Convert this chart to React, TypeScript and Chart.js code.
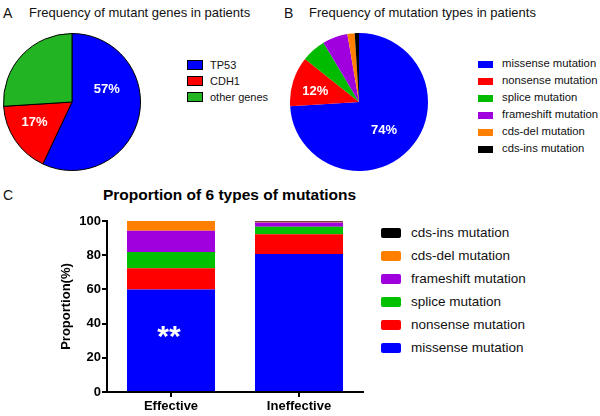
import React, { useEffect, useRef } from "react";
import { Chart, registerables } from "chart.js";

Chart.register(...registerables);

const FONT = "'Liberation Sans', Arial, Helvetica, sans-serif";

// Panel A
const geneLabels = ["TP53", "CDH1", "other genes"];
const geneValues = [57, 17, 26];
const geneColors = ["#0000FF", "#FF0000", "#22B422"];
const geneShowPct = [true, true, false];

// Panel B
const typeLabels = [
  "missense mutation",
  "nonsense mutation",
  "splice mutation",
  "frameshift mutation",
  "cds-del mutation",
  "cds-ins mutation",
];
const typeValues = [74, 11.7, 5.7, 5.9, 1.7, 1.0];
const typeColors = ["#0000FF", "#FF0000", "#00BB00", "#A000DD", "#FF8000", "#000000"];
const typeShowPct = [true, true, false, false, false, false];

// Panel C
const groups = ["Effective", "Ineffective"];
const missenseC = [60, 80.7];
const nonsenseC = [12.3, 11.5];
const spliceC = [9.6, 4.5];
const frameshiftC = [12.4, 2.4];
const cdsDelC = [5.7, 0.4];
const cdsInsC = [0, 0.5];
const barColors = ["#0000FF", "#FF0000", "#00C000", "#A000DD", "#FF8000", "#000000"];
const yTickValues = [0, 20, 40, 60, 80, 100];
const starGroup = 0;
const starValue = 35;

const pieLabelPlugin = {
  id: "pieLabels",
  afterDatasetsDraw(chart: any, _args: any, opts: any) {
    const meta = chart.getDatasetMeta(0);
    const ds = chart.data.datasets[0];
    const ctx = chart.ctx;
    ctx.save();
    ctx.fillStyle = "#FFFFFF";
    ctx.font = `bold 13px ${FONT}`;
    ctx.textAlign = "center";
    ctx.textBaseline = "middle";
    meta.data.forEach((arc: any, i: number) => {
      if (!opts.show[i]) return;
      const p = arc.getProps(["x", "y", "startAngle", "endAngle", "outerRadius"], true);
      const [af, rf] = opts.pos[i];
      const a = p.startAngle + (p.endAngle - p.startAngle) * af;
      const text = `${Math.round(ds.data[i])}%`;
      ctx.fillText(text, p.x + Math.cos(a) * p.outerRadius * rf, p.y + Math.sin(a) * p.outerRadius * rf);
    });
    ctx.restore();
  },
};

const starPlugin = {
  id: "stars",
  afterDatasetsDraw(chart: any, _args: any, opts: any) {
    const bar = chart.getDatasetMeta(0).data[opts.index];
    const y = chart.scales.y.getPixelForValue(opts.value);
    const ctx = chart.ctx;
    ctx.save();
    ctx.fillStyle = "#FFFFFF";
    ctx.font = `bold 30px ${FONT}`;
    ctx.textAlign = "center";
    ctx.textBaseline = "middle";
    ctx.fillText("**", bar.x - 2, y + 6);
    ctx.restore();
  },
};

function Legend(props: {
  items: string[];
  colors: string[];
  left: number;
  firstY: number;
  step: number;
  boxW: number;
  boxH: number;
  gap: number;
  fontSize: number;
  border?: boolean;
  radius?: number;
}) {
  const { items, colors, left, firstY, step, boxW, boxH, gap, fontSize, border, radius } = props;
  return (
    <>
      {items.map((t, i) => (
        <div
          key={t}
          style={{
            position: "absolute",
            left,
            top: firstY + i * step - 10,
            height: 20,
            width: "max-content",
            display: "flex",
            alignItems: "center",
            whiteSpace: "nowrap",
          }}
        >
          <div
            style={{
              width: boxW,
              height: boxH,
              flexShrink: 0,
              boxSizing: "border-box",
              background: colors[i],
              border: border ? "1px solid #000" : "none",
              borderRadius: radius || 0,
            }}
          />
          <span style={{ marginLeft: gap, fontSize, lineHeight: 1, color: "#111", flexShrink: 0 }}>{t}</span>
        </div>
      ))}
    </>
  );
}

export default function App() {
  const aRef = useRef<HTMLCanvasElement>(null);
  const bRef = useRef<HTMLCanvasElement>(null);
  const cRef = useRef<HTMLCanvasElement>(null);

  useEffect(() => {
    const charts: Chart[] = [];
    charts.push(
      new Chart(aRef.current!, {
        type: "pie",
        data: {
          labels: geneLabels,
          datasets: [
            { data: geneValues, backgroundColor: geneColors, borderColor: "#000", borderWidth: 1 },
          ],
        },
        options: {
          responsive: false,
          maintainAspectRatio: false,
          animation: false,
          layout: { padding: 0 },
          plugins: {
            legend: { display: false },
            tooltip: { enabled: false },
            pieLabels: { show: geneShowPct, pos: [[0.34, 0.54], [0.6, 0.62], [0.5, 0.5]] },
          } as any,
        },
        plugins: [pieLabelPlugin],
      })
    );
    charts.push(
      new Chart(bRef.current!, {
        type: "pie",
        data: {
          labels: typeLabels,
          datasets: [
            { data: typeValues, backgroundColor: typeColors, borderColor: "#333", borderWidth: 0 },
          ],
        },
        options: {
          responsive: false,
          maintainAspectRatio: false,
          animation: false,
          layout: { padding: 0 },
          plugins: {
            legend: { display: false },
            tooltip: { enabled: false },
            pieLabels: {
              show: typeShowPct,
              pos: [[0.52, 0.55], [0.4, 0.65], [0.5, 0.5], [0.5, 0.5], [0.5, 0.5], [0.5, 0.5]],
            },
          } as any,
        },
        plugins: [pieLabelPlugin],
      })
    );
    const series = [missenseC, nonsenseC, spliceC, frameshiftC, cdsDelC, cdsInsC];
    charts.push(
      new Chart(cRef.current!, {
        type: "bar",
        data: {
          labels: groups,
          datasets: series.map((d, i) => ({
            label: typeLabels[i],
            data: d,
            backgroundColor: barColors[i],
            borderWidth: 0,
            barPercentage: 0.6875,
            categoryPercentage: 1,
          })),
        },
        options: {
          responsive: false,
          maintainAspectRatio: false,
          animation: false,
          layout: { padding: { left: 55, right: 7, top: 11, bottom: 0 } },
          plugins: {
            legend: { display: false },
            tooltip: { enabled: false },
            stars: { index: starGroup, value: starValue },
          } as any,
          scales: {
            x: {
              stacked: true,
              offset: true,
              border: { display: true, color: "#000", width: 2 },
              grid: {
                offset: false,
                drawOnChartArea: false,
                drawTicks: true,
                tickLength: 5,
                color: "#000",
                lineWidth: 2,
              },
              ticks: { color: "#000", font: { family: FONT, size: 13, weight: "bold" }, padding: 2 },
              afterFit: (s: any) => {
                s.height = 24;
              },
            },
            y: {
              stacked: true,
              min: 0,
              max: 100,
              afterBuildTicks: (s: any) => {
                s.ticks = yTickValues.map((v) => ({ value: v }));
              },
              border: { display: true, color: "#000", width: 2 },
              grid: {
                drawOnChartArea: false,
                drawTicks: true,
                tickLength: 5,
                color: "#000",
                lineWidth: 2,
              },
              ticks: { color: "#000", font: { family: FONT, size: 13, weight: "bold" }, padding: 1 },
              title: {
                display: true,
                text: "Proportion(%)",
                color: "#000",
                font: { family: FONT, size: 13, weight: "bold" },
                padding: { top: 4, bottom: 0 },
              },
              afterFit: (s: any) => {
                s.width = 52;
              },
            },
          } as any,
        },
        plugins: [starPlugin],
      })
    );
    return () => charts.forEach((c) => c.destroy());
  }, []);

  const txt = (s: React.CSSProperties): React.CSSProperties => ({
    position: "absolute",
    lineHeight: 1,
    whiteSpace: "nowrap",
    color: "#111",
    ...s,
  });

  return (
    <div
      style={{
        position: "fixed",
        left: 0,
        top: 0,
        width: 600,
        height: 416,
        background: "#fff",
        overflow: "hidden",
        fontFamily: FONT,
      }}
    >
      <div style={txt({ left: 3, top: 6, fontSize: 14 })}>A</div>
      <div style={txt({ left: 29, top: 6, fontSize: 13 })}>Frequency of mutant genes in patients</div>
      <div style={txt({ left: 284, top: 6, fontSize: 14 })}>B</div>
      <div style={txt({ left: 309, top: 6, fontSize: 13 })}>Frequency of mutation types in patients</div>
      <div style={txt({ left: 3, top: 188, fontSize: 14 })}>C</div>
      <div style={txt({ left: 103, top: 187, fontSize: 15.5, fontWeight: "bold", color: "#000" })}>
        Proportion of 6 types of mutations
      </div>

      <canvas
        ref={aRef}
        width={138}
        height={138}
        style={{ position: "absolute", left: 3, top: 33, width: 138, height: 138 }}
      />
      <canvas
        ref={bRef}
        width={138}
        height={138}
        style={{ position: "absolute", left: 290, top: 33, width: 138, height: 138 }}
      />
      <canvas
        ref={cRef}
        width={370}
        height={206}
        style={{ position: "absolute", left: 0, top: 210, width: 370, height: 206 }}
      />

      <Legend
        items={geneLabels}
        colors={geneColors}
        left={187}
        firstY={65}
        step={16}
        boxW={16}
        boxH={10}
        gap={7}
        fontSize={11}
        border
      />
      <Legend
        items={typeLabels}
        colors={typeColors}
        left={478}
        firstY={64}
        step={17}
        boxW={15}
        boxH={7}
        gap={9}
        fontSize={11.3}
      />
      <Legend
        items={[...typeLabels].reverse()}
        colors={[...barColors].reverse()}
        left={381}
        firstY={233}
        step={23}
        boxW={20}
        boxH={10}
        gap={10}
        fontSize={13.5}
        radius={2}
      />
    </div>
  );
}
